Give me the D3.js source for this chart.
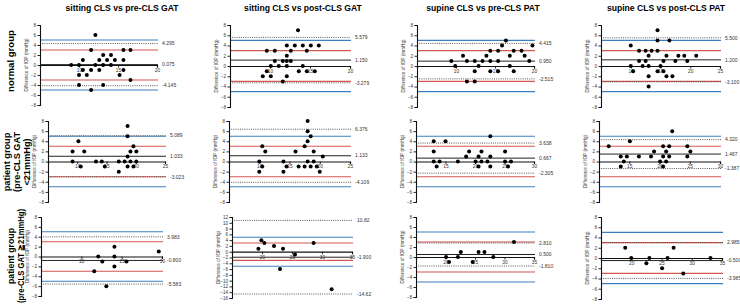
<!DOCTYPE html>
<html>
<head>
<meta charset="utf-8">
<script src="https://cdn.jsdelivr.net/npm/d3@7"></script>
<style>
  body { margin: 0; background: #fff; }
  svg { font-family: Arial, "Liberation Sans", sans-serif; }
</style>
</head>
<body>
<svg id="chart" width="740" height="308"></svg>
<script>
// column titles and row labels
const titles = ["sitting CLS vs pre-CLS GAT", "sitting CLS vs post-CLS GAT",
                "supine CLS vs pre-CLS PAT", "supine CLS vs post-CLS PAT"]
const rowLabels = [["normal group"],
                   ["patient group", "(pre-CLS GAT", "<21mmHg)"],
                   ["patient group", "(pre-CLS GAT \u226721mmHg)"]]

// reference lines (mmHg)
const blueRef = [5, -5]
const redRef = [3, -3]

// bland-altman stats: [upper LoA, bias, lower LoA]
const stats11 = [4.295, 0.075, -4.145]
const stats12 = [5.579, 1.150, -3.279]
const stats13 = [4.415, 0.950, -2.515]
const stats14 = [5.500, 1.200, -3.100]
const stats21 = [5.089, 1.033, -3.023]
const stats22 = [6.376, 1.133, -4.109]
const stats23 = [3.638, 0.667, -2.305]
const stats24 = [4.320, 1.467, -1.387]
const stats31 = [3.983, -0.800, -5.583]
const stats32 = [10.82, -1.900, -14.62]
const stats33 = [2.810, 0.500, -1.810]
const stats34 = [2.985, -0.500, -3.985]

// points: [mean IOP, difference]
const pts11 = [[12.1,6],[9.0,0],[10.0,0],[10.0,-2],[10.5,1],[10.5,-1],[11.0,-2],[11.55,3],[11.55,-1],
  [12.1,0],[12.6,1],[12.6,-1],[13.1,2],[13.1,0],[13.6,1],[14.1,2],[14.1,0],[14.6,1],[15.2,-2],
  [15.7,3],[15.7,1],[15.7,-1],[16.6,3],[16.6,-3],[10.0,-4],[13.1,-4],[11.55,-5]]
const pts12 = [[13.5,7],[9.1,-2],[9.6,3],[9.6,-1],[10.1,0],[10.1,-2],[10.6,3],[10.6,1],[11.1,0],
  [11.6,1],[11.6,-3],[12.1,4],[12.1,2],[12.1,1],[12.1,0],[12.1,-2],[12.6,3],[12.6,1],[13.1,4],
  [13.6,-1],[14.1,4],[14.1,0],[14.6,3],[14.6,-1],[15.1,4],[15.6,-1],[16.1,4]]
const pts13 = [[9.4,1],[9.9,0],[10.9,2],[11.4,1],[11.4,-3],[12.4,1],[12.4,-1],[12.4,-3],[12.9,0],
  [13.4,1],[13.9,2],[14.4,3],[14.4,1],[14.4,-1],[15.4,3],[15.4,1],[15.4,-1],[15.9,4],[16.4,5],
  [16.9,2],[16.9,0],[17.4,3],[17.4,-1],[18.4,3],[18.8,2],[19.4,1],[19.8,4]]
const pts14 = [[10.0,4],[10.0,0],[10.4,-1],[11.4,3],[11.4,1],[12.0,0],[12.5,3],[12.5,1],[13.0,2],
  [13.0,0],[13.0,-2],[13.0,-4],[13.5,3],[14.5,7],[14.5,5],[14.5,3],[14.5,-1],[15.0,0],[15.5,1],
  [15.5,-1],[16.0,2],[16.0,-2],[16.5,5],[17.0,-2],[17.5,1],[18.0,2],[19.0,2],[19.5,1],[21.0,2]]
const pts21 = [[9.2,2],[9.2,0],[10.2,4],[10.6,-1],[11.2,2],[13.2,0],[14.2,0],[14.7,-1],[17.1,-2],
  [17.1,0],[18.1,0],[18.6,7],[18.6,5],[18.6,1],[18.6,-1],[19.1,2],[19.1,0],[19.6,3],[19.6,-1],
  [20.1,2],[20.1,0]]
const pts22 = [[10.0,0],[10.0,-2],[10.5,3],[10.5,-1],[11.0,2],[14.0,0],[14.0,-2],[14.5,-1],[16.0,2],
  [16.5,-1],[17.5,3],[17.5,-1],[18.0,8],[18.0,6],[18.0,4],[18.0,0],[18.5,5],[18.5,-1],[19.0,2],
  [19.0,0],[19.5,-1],[20.0,-2],[20.5,1]]
const pts23 = [[13.0,4],[13.0,2],[13.0,0],[13.5,-1],[14.0,0],[15.0,4],[17.1,0],[18.5,1],[19.0,2],
  [20.1,0],[20.6,1],[20.6,-1],[21.1,2],[21.1,0],[22.1,0],[22.6,5],[22.6,1],[22.6,-1],[25.1,2],
  [25.1,0],[25.6,-1],[26.1,0]]
const pts24 = [[11.6,3],[13.6,1],[13.6,-1],[14.1,0],[14.6,1],[15.1,4],[16.6,1],[18.6,1],[19.1,2],
  [20.1,0],[20.6,3],[20.6,1],[20.6,-1],[21.1,2],[21.1,0],[21.6,3],[21.6,1],[22.1,6],[24.6,3],
  [24.6,1],[25.1,2]]
const pts31 = [[21.6,-3],[22.1,0],[22.6,-1],[23.1,-6],[24.1,2],[24.1,0],[24.1,-2],[25.6,-1],[29.6,1]]
const pts32 = [[19.4,1],[19.9,4],[20.4,3],[22.0,2],[23.0,-6],[23.5,1],[25.5,-1],[28.6,3],[31.6,-13]]
const pts33 = [[20.1,0],[20.6,-1],[22.1,0],[22.6,1],[24.6,-1],[25.6,1],[26.6,1],[28.1,0],[31.6,3]]
const pts34 = [[19.0,2],[20.0,0],[22.5,-1],[23.0,0],[25.1,-2],[26.0,0],[27.0,2],[28.6,-3],[33.1,0]]

const yTicks8 = [-8, -6, -4, -2, 0, 2, 4, 6, 8]
const yTicks16 = [-16, -14, -12, -10, -8, -6, -4, -2, 0, 2, 4, 6, 8, 10, 12]

let panels = [
  {pts: pts11, st: stats11, x0: 40, x1: 157, y0: 25, y1: 105, xd: [5, 20], yd: [-8, 8], xt: [10, 15, 20], yt: yTicks8},
  {pts: pts12, st: stats12, x0: 230, x1: 350, y0: 25, y1: 107, xd: [5, 20], yd: [-8, 8], xt: [10, 15, 20], yt: yTicks8},
  {pts: pts13, st: stats13, x0: 417, x1: 534, y0: 25, y1: 107, xd: [5, 20], yd: [-8, 8], xt: [10, 15, 20], yt: yTicks8},
  {pts: pts14, st: stats14, x0: 601, x1: 720, y0: 25, y1: 107, xd: [5, 25], yd: [-8, 8], xt: [10, 15, 20, 25], yt: yTicks8},
  {pts: pts21, st: stats21, x0: 48, x1: 165, y0: 121, y1: 202, xd: [5, 25], yd: [-8, 8], xt: [10, 15, 20, 25], yt: yTicks8},
  {pts: pts22, st: stats22, x0: 229, x1: 350, y0: 121, y1: 202, xd: [5, 25], yd: [-8, 8], xt: [10, 15, 20, 25], yt: yTicks8},
  {pts: pts23, st: stats23, x0: 416, x1: 534, y0: 121, y1: 202, xd: [10, 30], yd: [-8, 8], xt: [15, 20, 25, 30], yt: yTicks8},
  {pts: pts24, st: stats24, x0: 599, x1: 720, y0: 121, y1: 202, xd: [10, 30], yd: [-8, 8], xt: [15, 20, 25, 30], yt: yTicks8},
  {pts: pts31, st: stats31, x0: 41, x1: 162, y0: 217, y1: 296, xd: [15, 30], yd: [-8, 8], xt: [20, 25, 30], yt: yTicks8},
  {pts: pts32, st: stats32, x0: 232, x1: 352, y0: 217, y1: 298, xd: [15, 35], yd: [-16, 12], xt: [20, 25, 30, 35], yt: yTicks16},
  {pts: pts33, st: stats33, x0: 416, x1: 534, y0: 217, y1: 297, xd: [15, 35], yd: [-8, 8], xt: [20, 25, 30, 35], yt: yTicks8},
  {pts: pts34, st: stats34, x0: 601, x1: 722, y0: 217, y1: 299, xd: [15, 35], yd: [-8, 8], xt: [20, 25, 30, 35], yt: yTicks8}
]

let svg = d3.select("#chart")

const blue = "#3c7fc0"
const red = "#d4574f"

// column titles
let titleX = [122, 303, 483, 666]
svg.selectAll(".title")
  .data(titles)
  .join("text")
  .attr("class", "title")
  .attr("x", (d, i) => titleX[i])
  .attr("y", 11)
  .attr("text-anchor", "middle")
  .attr("font-size", "8.6px")
  .attr("font-weight", "bold")
  .text(d => d)

// row labels (rotated), one line per entry, stepping to the right
// maxLen squeezes the long line so it fits the figure height
let rowInfo = [{x: 13.5, y: 61, fs: 9.6, lh: 10, maxLen: 0},
               {x: 10, y: 162, fs: 9.2, lh: 9.8, maxLen: 0},
               {x: 14, y: 256, fs: 8.8, lh: 10, maxLen: 94}]
rowLabels.forEach((lines, r) => {
  let g = svg.append("g")
    .attr("transform", "translate(" + rowInfo[r].x + "," + rowInfo[r].y + ") rotate(-90)")
  lines.forEach((ln, k) => {
    let t = g.append("text")
      .attr("x", 0)
      .attr("y", k * rowInfo[r].lh)
      .attr("text-anchor", "middle")
      .attr("font-size", rowInfo[r].fs + "px")
      .attr("font-weight", "bold")
      .text(ln)
    if (rowInfo[r].maxLen && t.node().getComputedTextLength() > rowInfo[r].maxLen) {
      t.attr("textLength", rowInfo[r].maxLen).attr("lengthAdjust", "spacingAndGlyphs")
    }
  })
})

panels.forEach((p) => {
  let x = d3.scaleLinear().domain(p.xd).range([p.x0, p.x1])
  let y = d3.scaleLinear().domain(p.yd).range([p.y1, p.y0])
  let g = svg.append("g")
  let xe = p.x1 + 1

  // reference lines
  blueRef.forEach(v => {
    g.append("line").attr("x1", p.x0).attr("x2", xe).attr("y1", y(v)).attr("y2", y(v))
      .attr("stroke", blue).attr("stroke-width", 1.1)
  })
  redRef.forEach(v => {
    g.append("line").attr("x1", p.x0).attr("x2", xe).attr("y1", y(v)).attr("y2", y(v))
      .attr("stroke", red).attr("stroke-width", 1.1)
  })

  // limits of agreement (dotted)
  ;[p.st[0], p.st[2]].forEach(v => {
    g.append("line").attr("x1", p.x0).attr("x2", xe).attr("y1", y(v)).attr("y2", y(v))
      .attr("stroke", "#444").attr("stroke-width", 0.9).attr("stroke-dasharray", "1,1.2")
  })
  // bias
  g.append("line").attr("x1", p.x0).attr("x2", xe).attr("y1", y(p.st[1])).attr("y2", y(p.st[1]))
    .attr("stroke", "#222").attr("stroke-width", 1)

  // value labels
  p.st.forEach(v => {
    g.append("text")
      .attr("x", p.x1 + 5)
      .attr("y", y(v) + 1.7)
      .attr("font-size", "5px")
      .attr("fill", "#333")
      .text(Math.abs(v) >= 10 ? v.toFixed(2) : v.toFixed(3))
  })

  // y axis
  let yAxis = d3.axisLeft(y).tickValues(p.yt).tickSize(2.5).tickPadding(1.5).tickFormat(d3.format("d"))
  let ya = g.append("g").attr("transform", "translate(" + p.x0 + ",0)").call(yAxis)
  ya.select(".domain").attr("stroke", "#111").attr("stroke-width", 1.1)
  ya.selectAll(".tick line").attr("stroke", "#111").attr("stroke-width", 0.9)
  ya.selectAll("text").attr("font-size", "4.6px").attr("fill", "#333").attr("font-family", "Arial, 'Liberation Sans'")

  g.append("text")
    .attr("transform", "translate(" + (p.x0 - 12) + "," + ((p.y0 + p.y1) / 2) + ") rotate(-90)")
    .attr("text-anchor", "middle")
    .attr("font-size", "4.6px")
    .attr("fill", "#333")
    .text("Difference of IOP (mmHg)")

  // x axis at zero
  let xAxis = d3.axisBottom(x).tickValues(p.xt).tickSize(2.5).tickPadding(1).tickFormat(d3.format("d"))
  let xa = g.append("g").attr("transform", "translate(0," + y(0) + ")").call(xAxis)
  xa.select(".domain").attr("stroke", "#111").attr("stroke-width", 1.2)
  xa.selectAll(".tick line").attr("stroke", "#111").attr("stroke-width", 0.9)
  xa.selectAll("text").attr("font-size", "4.8px").attr("fill", "#333").attr("font-family", "Arial, 'Liberation Sans'")

  // points
  g.selectAll("circle")
    .data(p.pts)
    .join("circle")
    .attr("cx", d => x(d[0]))
    .attr("cy", d => y(d[1]))
    .attr("r", 2)
    .attr("fill", "#000")
})
</script>
</body>
</html>
